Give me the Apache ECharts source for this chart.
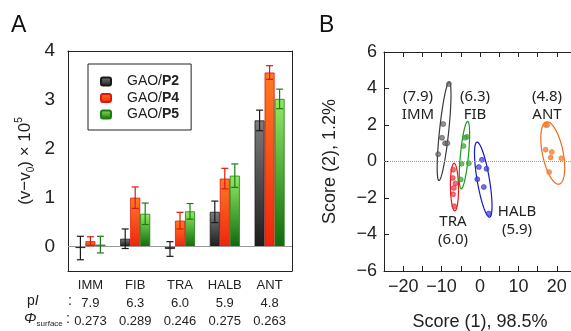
<!DOCTYPE html>
<html>
<head>
<meta charset="utf-8">
<script src="https://cdn.jsdelivr.net/npm/echarts@6/dist/echarts.min.js"></script>
<style>
  html, body { margin: 0; padding: 0; background: #fff; }
  #chart { width: 571px; height: 331px; }
</style>
</head>
<body>
<div id="chart"></div>
<script>
// ---- panel A: frequency shift bars ----
const proteins = ["IMM", "FIB", "TRA", "HALB", "ANT"];
const pIValues = ["7.9", "6.3", "6.0", "5.9", "4.8"];
const phiSurface = ["0.273", "0.289", "0.246", "0.275", "0.263"];
const seriesNames = ["GAO/P2", "GAO/P4", "GAO/P5"];
const shiftP2 = [-0.03, 0.16, -0.05, 0.71, 2.58];
const shiftP4 = [0.11, 1.0, 0.53, 1.39, 3.56];
const shiftP5 = [0.04, 0.67, 0.72, 1.45, 3.02];
const errP2 = [0.24, 0.2, 0.15, 0.22, 0.21];
const errP4 = [0.09, 0.22, 0.17, 0.21, 0.14];
const errP5 = [0.17, 0.22, 0.16, 0.24, 0.2];
const yTicksA = [0, 1, 2, 3, 4];

// ---- panel B: PCA scores ----
const groupNames = ["IMM", "FIB", "TRA", "HALB", "ANT"];
const scoreIMM = [[-8.1, 4.25], [-9.6, 2.05], [-9.9, 1.3], [-9.1, 1.0], [-8.5, 1.0], [-10.9, 0.4]];
const scoreFIB = [[-3.4, 1.35], [-3.9, 1.3], [-4.3, 0.85], [-4.8, -0.12], [-2.9, -0.1], [-5.0, -0.98]];
const scoreTRA = [[-7.0, -0.45], [-7.1, -0.9], [-6.4, -1.2], [-6.8, -1.45], [-7.0, -1.8], [-6.7, -2.45]];
const scoreHALB = [[0.5, 0.09], [-0.3, -0.3], [1.7, -0.4], [-0.7, -0.97], [1.0, -1.4], [2.3, -2.85]];
const scoreANT = [[17.1, 2.0], [17.5, 2.0], [17.1, 0.65], [18.7, 0.52], [18.4, 0.22], [21.2, 0.18], [18.0, -0.58]];
const ellipseTop = [[-8.0, 4.36], [-3.2, 2.2], [-6.75, -0.1], [-0.8, 1.06], [17.3, 2.17]];
const ellipseBottom = [[-10.7, -1.04], [-4.9, -1.5], [-6.55, -2.7], [2.5, -3.05], [20.6, -1.24]];
const ellipseHalfWidth = [1.2, 1.05, 1.05, 1.6, 2.7];
const xLabelsB = [-20, -10, 0, 10, 20];
const xTicksB = [-20, -15, -10, -5, 0, 5, 10, 15, 20];

const chart = echarts.init(document.getElementById("chart"));

const grad = (top, bottom) =>
  new echarts.graphic.LinearGradient(0, 0, 0, 1, [
    { offset: 0, color: top },
    { offset: 1, color: bottom },
  ]);

const barStyles = [
  { fill: grad("#7c7c7c", "#1c1c1c"), line: "#1a1a1a" },
  { fill: grad("#ff7b22", "#f0240e"), line: "#e0180c" },
  { fill: grad("#92ec62", "#0f6a0c"), line: "#1c7c12" },
];
const barValues = [shiftP2, shiftP4, shiftP5];
const barErrors = [errP2, errP4, errP5];
const offsets = [-10, 0, 10];

const barSeries = seriesNames.map((name, k) => ({
  name,
  type: "bar",
  xAxisIndex: 0,
  yAxisIndex: 0,
  barWidth: 10,
  barGap: "0%",
  data: barValues[k],
  itemStyle: { color: barStyles[k].fill, borderColor: barStyles[k].line, borderWidth: 0.8 },
  markLine: k === 0 ? {
    silent: true,
    symbol: "none",
    label: { show: false },
    lineStyle: { color: "#999", type: "solid", width: 1 },
    data: [{ yAxis: 0 }],
  } : undefined,
}));

const errorSeries = seriesNames.map((name, k) => ({
  type: "custom",
  xAxisIndex: 0,
  yAxisIndex: 0,
  z: 5,
  data: barValues[k].map((v, i) => [i, v - barErrors[k][i], v + barErrors[k][i]]),
  encode: { x: 0, y: [1, 2] },
  renderItem(params, api) {
    const lo = api.coord([api.value(0), api.value(1)]);
    const hi = api.coord([api.value(0), api.value(2)]);
    const x = lo[0] + offsets[k];
    const c = 3.5;
    const st = { stroke: barStyles[k].line, lineWidth: 1.2 };
    return {
      type: "group",
      children: [
        { type: "line", shape: { x1: x, y1: hi[1], x2: x, y2: lo[1] }, style: st },
        { type: "line", shape: { x1: x - c, y1: hi[1], x2: x + c, y2: hi[1] }, style: st },
        { type: "line", shape: { x1: x - c, y1: lo[1], x2: x + c, y2: lo[1] }, style: st },
      ],
    };
  },
}));

const groupScores = [scoreIMM, scoreFIB, scoreTRA, scoreHALB, scoreANT];
const groupColors = ["#3a3a3a", "#1e961e", "#e8141e", "#1818c8", "#f26a1c"];
const dotColors = ["rgba(110,110,110,0.75)", "rgba(60,170,60,0.75)", "rgba(240,60,70,0.75)", "rgba(70,70,215,0.75)", "rgba(245,130,60,0.8)"];

const scatterSeries = groupNames.map((name, g) => ({
  type: "scatter",
  xAxisIndex: 2,
  yAxisIndex: 2,
  symbolSize: 5,
  data: groupScores[g],
  itemStyle: { color: dotColors[g], borderColor: groupColors[g], borderWidth: 0.5, opacity: 1 },
  z: 4,
  markLine: g === 0 ? {
    silent: true,
    symbol: "none",
    label: { show: false },
    lineStyle: { color: "#999", type: "dotted", width: 1 },
    data: [{ yAxis: 0 }],
  } : undefined,
}));

const ellipseSeries = {
  type: "custom",
  xAxisIndex: 2,
  yAxisIndex: 2,
  z: 3,
  data: groupNames.map((n, g) => [ellipseTop[g][0], ellipseTop[g][1], ellipseBottom[g][0], ellipseBottom[g][1], ellipseHalfWidth[g]]),
  encode: { x: [0, 2], y: [1, 3] },
  renderItem(params, api) {
    const a = api.coord([api.value(0), api.value(1)]);
    const b = api.coord([api.value(2), api.value(3)]);
    const hw = api.size([api.value(4), 0])[0];
    const cx = (a[0] + b[0]) / 2, cy = (a[1] + b[1]) / 2;
    const dx = b[0] - a[0], dy = b[1] - a[1];
    const L = Math.hypot(dx, dy) / 2;
    const ux = dx / (2 * L), uy = dy / (2 * L);
    const pts = [];
    for (let i = 0; i <= 90; i++) {
      const t = (Math.PI * 2 * i) / 90;
      pts.push([
        cx + L * Math.cos(t) * ux - hw * Math.sin(t) * uy,
        cy + L * Math.cos(t) * uy + hw * Math.sin(t) * ux,
      ]);
    }
    return {
      type: "polygon",
      shape: { points: pts },
      style: { fill: "none", stroke: groupColors[params.dataIndex], lineWidth: 1.2 },
    };
  },
};

const axisBlack = { show: true, onZero: false, lineStyle: { color: "#222", width: 1 } };
const font = "Liberation Sans, Arial, sans-serif";

chart.setOption({
  animation: false,
  textStyle: { fontFamily: font },
  grid: [
    { left: 68, top: 51, width: 224, height: 220, outerBoundsMode: "none" },
    { left: 384, top: 52, width: 192, height: 219, outerBoundsMode: "none" },
  ],
  legend: {
    data: seriesNames,
    orient: "vertical",
    left: 88,
    top: 64,
    itemWidth: 10,
    itemHeight: 8,
    itemGap: 1.5,
    padding: [10, 12, 8, 12],
    borderColor: "#222",
    borderWidth: 1,
    formatter: (n) => n.replace(/(P\d)/, "{b|$1}"),
    textStyle: {
      fontSize: 14,
      color: "#222",
      lineHeight: 15,
      padding: [0, 0, 0, 11],
      rich: { b: { fontWeight: "bold", fontSize: 14, lineHeight: 15 } },
    },
  },
  xAxis: [
    {
      type: "category",
      gridIndex: 0,
      data: proteins,
      axisLine: axisBlack,
      axisTick: { show: false },
      axisLabel: {
        margin: 5,
        fontSize: 13,
        lineHeight: 18,
        color: "#222",
        formatter: (v, i) => v + "\n" + pIValues[i] + "\n" + phiSurface[i],
      },
    },
    {
      type: "category",
      gridIndex: 0,
      position: "top",
      data: proteins,
      axisLine: axisBlack,
      axisTick: { show: false },
      axisLabel: { show: false },
    },
    {
      type: "value",
      gridIndex: 1,
      min: -25,
      max: 25,
      axisLine: axisBlack,
      splitLine: { show: false },
      axisTick: { inside: true, length: 5, customValues: xTicksB, lineStyle: { color: "#222" } },
      axisLabel: {
        customValues: xLabelsB,
        fontSize: 18,
        margin: 7,
        color: "#222",
        formatter: (v) => String(v).replace("-", "\u2212"),
      },
      name: "Score (1), 98.5%",
      nameLocation: "middle",
      nameGap: 42,
      nameTextStyle: { fontSize: 18, color: "#222" },
    },
    {
      type: "value",
      gridIndex: 1,
      position: "top",
      min: -25,
      max: 25,
      axisLine: axisBlack,
      splitLine: { show: false },
      axisTick: { inside: true, length: 5, customValues: xTicksB, lineStyle: { color: "#222" } },
      axisLabel: { show: false },
    },
  ],
  yAxis: [
    {
      type: "value",
      gridIndex: 0,
      min: -0.5,
      max: 4,
      axisLine: axisBlack,
      splitLine: { show: false },
      axisTick: { inside: true, length: 10, customValues: yTicksA, lineStyle: { color: "#222" } },
      axisLabel: { customValues: yTicksA, fontSize: 19, margin: 13, color: "#222" },
      name: "(v\u2212v{sub|0}) \u00d7 10{sup|5}",
      nameLocation: "middle",
      nameRotate: 90,
      nameGap: 32,
      nameTextStyle: {
        fontSize: 17,
        color: "#222",
        lineHeight: 22,
        rich: {
          sub: { fontSize: 10, verticalAlign: "bottom", lineHeight: 22 },
          sup: { fontSize: 10, verticalAlign: "top", lineHeight: 22 },
        },
      },
    },
    {
      type: "value",
      gridIndex: 0,
      position: "right",
      min: -0.5,
      max: 4,
      axisLine: axisBlack,
      splitLine: { show: false },
      axisTick: { inside: true, length: 9, customValues: yTicksA, lineStyle: { color: "#222" } },
      axisLabel: { show: false },
    },
    {
      type: "value",
      gridIndex: 1,
      min: -6,
      max: 6,
      interval: 2,
      axisLine: axisBlack,
      splitLine: { show: false },
      axisTick: { inside: true, length: 5, lineStyle: { color: "#222" } },
      axisLabel: {
        fontSize: 18,
        margin: 7,
        color: "#222",
        formatter: (v) => String(v).replace("-", "\u2212"),
      },
      name: "Score (2), 1.2%",
      nameLocation: "middle",
      nameRotate: 90,
      nameGap: 45,
      nameTextStyle: { fontSize: 18, color: "#222" },
    },
    {
      type: "value",
      gridIndex: 1,
      position: "right",
      min: -6,
      max: 6,
      interval: 2,
      axisLine: axisBlack,
      splitLine: { show: false },
      axisTick: { inside: true, length: 5, lineStyle: { color: "#222" } },
      axisLabel: { show: false },
    },
  ],
  graphic: [
    { type: "text", left: 11, top: 14, style: { text: "A", fontSize: 23, fill: "#111", fontFamily: font } },
    { type: "text", left: 319, top: 14, style: { text: "B", fontSize: 23, fill: "#111", fontFamily: font } },
    {
      type: "text", left: 27, top: 294,
      style: { text: "p{i|I}", fontSize: 14, fill: "#222", fontFamily: font, rich: { i: { fontStyle: "italic", fontSize: 14 } } },
    },
    { type: "text", left: 68, top: 294, style: { text: ":", fontSize: 14, fill: "#222", fontFamily: font } },
    {
      type: "text", left: 24, top: 311,
      style: {
        text: "{phi|\u03a6}{sub|surface}",
        fontSize: 14, fill: "#222", fontFamily: font,
        rich: { phi: { fontStyle: "italic", fontSize: 15, lineHeight: 18 }, sub: { fontSize: 8, verticalAlign: "bottom", lineHeight: 18 } },
      },
    },
    { type: "text", left: 66, top: 312, style: { text: ":", fontSize: 14, fill: "#222", fontFamily: font } },
    // PCA group labels
    ...[
      ["(7.9)\nIMM", 418, 106],
      ["(6.3)\nFIB", 475, 106],
      ["(4.8)\nANT", 547, 106],
      ["TRA\n(6.0)", 453, 231],
      ["HALB\n(5.9)", 517, 221],
    ].map(([t, x, y]) => ({
      type: "text",
      x, y,
      style: { text: t, fontSize: 15, lineHeight: 18, fill: "#222", fontFamily: "Noto Sans, DejaVu Sans, sans-serif", align: "center", verticalAlign: "middle" },
    })),
  ],
  series: [...barSeries, ...errorSeries, ellipseSeries, ...scatterSeries],
});
</script>
</body>
</html>
